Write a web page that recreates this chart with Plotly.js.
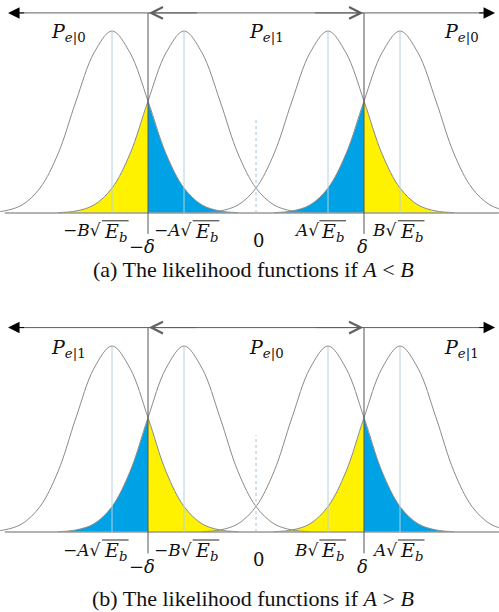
<!DOCTYPE html>
<html><head><meta charset="utf-8">
<script src="https://cdn.plot.ly/plotly-3.0.1.min.js"></script>
<style>html,body{margin:0;padding:0;background:#fff}</style>
</head><body><div id="chart" style="width:499px;height:612px"></div>
<script>
// ---- data ----
const means = [-2, -1, 1, 2];            // centres of the four likelihood curves (units of sqrt(Eb))
const delta = 1.5;                        // decision threshold
const thresholds = [-delta, delta];
const labelsA = ['−<i>B</i>', '−<i>A</i>', '<i>A</i>', '<i>B</i>'];
const labelsB = ['−<i>A</i>', '−<i>B</i>', '<i>B</i>', '<i>A</i>'];
const regionLabelsA = ['<i>P</i><sub><i>e</i>|0</sub>', '<i>P</i><sub><i>e</i>|1</sub>', '<i>P</i><sub><i>e</i>|0</sub>'];
const regionLabelsB = ['<i>P</i><sub><i>e</i>|1</sub>', '<i>P</i><sub><i>e</i>|0</sub>', '<i>P</i><sub><i>e</i>|1</sub>'];
// curve profile: height (relative to peak) at offsets from the centre
const offsets = [-1.75, -1.5, -1.25, -1, -0.75, -0.5, -0.25, 0, 0.25, 0.5, 0.75, 1, 1.25, 1.5, 1.75];
const profile = [0.002, 0.011, 0.044, 0.137, 0.325, 0.615, 0.88, 1, 0.88, 0.615, 0.325, 0.137, 0.044, 0.011, 0.002];
// shaded tails: which curve, which side of which threshold
const tailMeans = [-1, -2, 2, 1];
const tailThreshold = [-delta, -delta, delta, delta];
const tailSide = [-1, 1, -1, 1];
const tailColorsA = ['yellow', 'blue', 'blue', 'yellow'];
const tailColorsB = ['blue', 'yellow', 'yellow', 'blue'];
const captions = ['(a) The likelihood functions if <i>A</i> &lt; <i>B</i>',
                  '(b) The likelihood functions if <i>A</i> &gt; <i>B</i>'];

// ---- styling ----
const COL = {yellow: '#fff200', blue: '#00a2e6'};
const MATH = 'DejaVu Serif, serif';
const traces = [], shapes = [], annotations = [];

function panel(yref, tickLabels, regionLabels, tailColors, caption) {
  const isA = yref === 'y';
  tailMeans.forEach((m, i) => {
    const xs = [], ys = [];
    offsets.forEach((o, k) => {
      const x = m + o;
      if ((x - tailThreshold[i]) * tailSide[i] >= -1e-9) { xs.push(x); ys.push(profile[k]); }
    });
    traces.push({x: xs, y: ys, xaxis: 'x', yaxis: yref, mode: 'lines', fill: 'tozeroy',
      fillcolor: COL[tailColors[i]], line: {width: 0, shape: 'spline'}, hoverinfo: 'skip'});
  });
  means.forEach(m => {
    traces.push({x: offsets.map(o => m + o), y: profile, xaxis: 'x', yaxis: yref, mode: 'lines',
      line: {color: '#8a8a8a', width: 1, shape: 'spline'}, hoverinfo: 'skip'});
  });
  const L = (x0, x1, y0, y1, color, width, dash) => shapes.push({type: 'line', xref: 'x', yref: yref,
    x0: x0, x1: x1, y0: y0, y1: y1, line: {color: color, width: width, dash: dash || 'solid'}, layer: 'above'});
  L(-3.49, 3.4, 0, 0, '#9a9a9a', 1.5);
  means.forEach(m => L(m, m, 0, 1, '#b5d0e2', 1));
  thresholds.forEach(t => L(t, t, -0.115, 1.099, '#555', 1));
  L(0, 0, 0, 0.52, '#9cc3dc', 1, '3px,3px');
  const ay = 1.099;
  L(-3.40, 3.28, ay, ay, '#606060', 1);
  const arr = (x, ax, head, size, color) => annotations.push({xref: 'x', yref: yref, axref: 'x', ayref: yref,
    x: x, y: ay, ax: ax, ay: ay, text: '', showarrow: true, arrowhead: head, arrowsize: size,
    arrowwidth: 1, arrowcolor: color, standoff: 0, startstandoff: 0});
  arr(-3.444, -3.2, 2, 2.3, '#000');
  arr(3.32, 3.08, 2, 2.3, '#000');
  arr(delta - 0.01, 0.8, 5, 2.3, '#606060');
  arr(-delta + 0.01, -0.8, 5, 2.3, '#606060');
  const rx = [-2.6, 0.14, 2.86];
  regionLabels.forEach((t, i) => annotations.push({xref: 'x', yref: yref, x: rx[i], y: isA ? 0.99 : 0.985, text: t,
    showarrow: false, font: {family: MATH, size: 19, color: '#111'}}));
  const joints = [-2.12, -0.86, 0.9, 1.99];
  const ty = -0.03;
  tickLabels.forEach((t, i) => {
    annotations.push({xref: 'x', yref: yref, x: joints[i], y: ty, xanchor: 'right', yanchor: 'top',
      text: t + '√', showarrow: false, font: {family: MATH, size: 17, color: '#111'}});
    annotations.push({xref: 'x', yref: yref, x: joints[i] - 0.02, y: ty + 0.005, xanchor: 'left', yanchor: 'top',
      text: '<i>E</i><sub><i>b</i></sub>', showarrow: false, font: {family: MATH, size: 19, color: '#111'}});
    L(joints[i] - 0.02, joints[i] + 0.35, -0.043, -0.043, '#111', 0.9);
  });
  annotations.push({xref: 'x', yref: yref, x: -delta - 0.08, y: -0.185, text: '−<i>δ</i>', showarrow: false,
    font: {family: MATH, size: 18, color: '#111'}});
  annotations.push({xref: 'x', yref: yref, x: delta - 0.02, y: -0.185, text: '<i>δ</i>', showarrow: false,
    font: {family: MATH, size: 18, color: '#111'}});
  annotations.push({xref: 'x', yref: yref, x: 0.03, y: -0.15, text: '0', showarrow: false,
    font: {family: MATH, size: 18, color: '#111'}});
  annotations.push({xref: 'x', yref: yref, x: -0.04, y: isA ? -0.31 : -0.355, text: caption,
    showarrow: false, font: {family: 'Liberation Serif, Times New Roman, serif', size: 22, color: '#111'}});
}

panel('y', labelsA, regionLabelsA, tailColorsA, captions[0]);
panel('y2', labelsB, regionLabelsB, tailColorsB, captions[1]);

const layout = {
  width: 499, height: 612, margin: {l: 0, r: 0, t: 0, b: 0},
  paper_bgcolor: '#fff', plot_bgcolor: '#fff', showlegend: false,
  xaxis: {range: [-3.556, 3.375], visible: false, anchor: 'y', fixedrange: true},
  yaxis: {range: [-0.511, 1.170], domain: [0.5, 1], visible: false, fixedrange: true},
  yaxis2: {range: [-0.430, 1.215], domain: [0, 0.5], visible: false, anchor: 'x', fixedrange: true},
  shapes: shapes, annotations: annotations
};
Plotly.newPlot('chart', traces, layout, {displayModeBar: false, staticPlot: true});
</script></body></html>
